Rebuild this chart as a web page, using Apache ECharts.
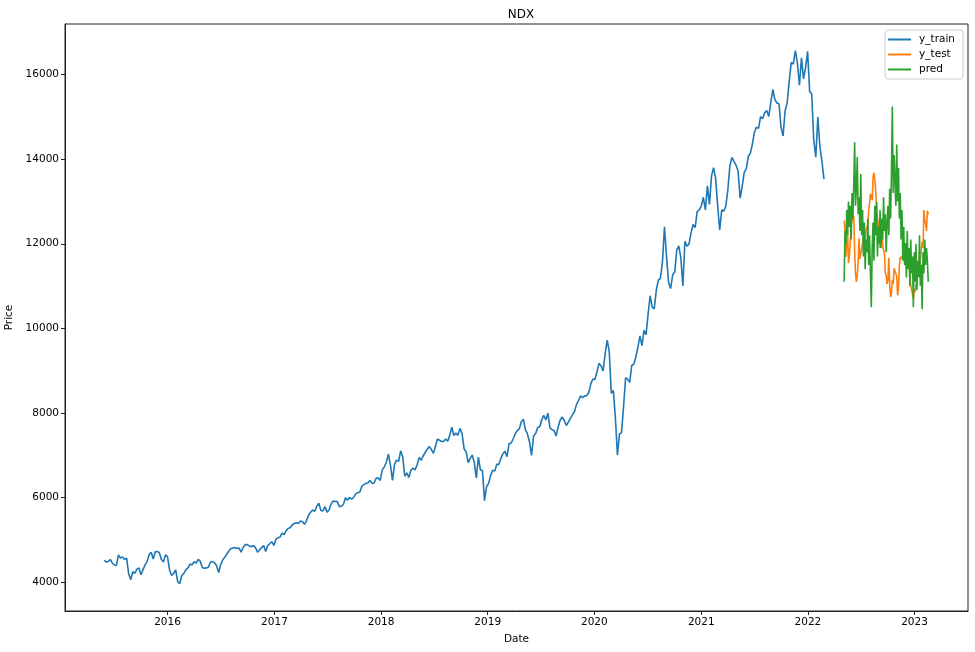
<!DOCTYPE html>
<html>
<head>
<meta charset="utf-8">
<title>NDX</title>
<script src="https://cdn.jsdelivr.net/npm/echarts@6/dist/echarts.min.js"></script>
<style>
  html, body { margin: 0; padding: 0; background: #fff; }
  #chart { width: 975px; height: 652px; }
</style>
</head>
<body>
<div id="chart"></div>
<script>
// weekly closes (Friday)
const train2015 = [4509, 4470, 4480, 4530, 4440, 4400, 4390, 4640, 4560, 4590, 4530, 4560, 4190, 4050, 4240,
  4200, 4300, 4330, 4170, 4290, 4400, 4480, 4650, 4700, 4540, 4710, 4720, 4690, 4530, 4470, 4640]
const train2016 = [4590, 4280, 4150, 4200, 4280, 4000, 3960, 4150, 4200, 4290, 4330, 4420, 4400, 4480, 4440,
  4530, 4490, 4340, 4320, 4330, 4350, 4470, 4480, 4450, 4380, 4220, 4410, 4520, 4580, 4660, 4730, 4790, 4800,
  4810, 4790, 4800, 4700, 4820, 4880, 4880, 4850, 4830, 4860, 4810, 4700, 4760, 4810, 4860, 4720, 4860, 4900,
  4950, 4860]
const train2017 = [5010, 5040, 5060, 5150, 5120, 5210, 5270, 5280, 5350, 5380, 5400, 5380, 5440, 5420, 5360,
  5450, 5580, 5650, 5700, 5670, 5790, 5860, 5690, 5680, 5780, 5650, 5700, 5850, 5910, 5900, 5900, 5780, 5790,
  5830, 5990, 5930, 6000, 5960, 6000, 6080, 6110, 6120, 6260, 6300, 6330, 6340, 6400, 6330, 6340, 6450, 6460,
  6400]
const train2018 = [6650, 6720, 6830, 7020, 6760, 6400, 6780, 6880, 6850, 7100, 6960, 6500, 6580, 6470, 6640,
  6690, 6650, 6760, 6940, 6880, 6980, 7060, 7140, 7200, 7130, 7040, 7200, 7380, 7350, 7320, 7320, 7380, 7330,
  7460, 7660, 7460, 7520, 7470, 7630, 7520, 7150, 7080, 6820, 6920, 7000, 6820, 6460, 6950, 6650, 6630, 5920,
  6250]
const train2019 = [6330, 6520, 6640, 6620, 6780, 6780, 6920, 7030, 7090, 6960, 7270, 7280, 7380, 7500, 7580,
  7620, 7790, 7850, 7600, 7500, 7310, 6990, 7450, 7510, 7650, 7670, 7840, 7940, 7830, 7990, 7650, 7600, 7580,
  7450, 7660, 7830, 7900, 7820, 7700, 7780, 7870, 7950, 8030, 8200, 8290, 8400, 8360, 8400, 8410, 8480, 8690,
  8800]
const train2020 = [8790, 8970, 9170, 9110, 8990, 9400, 9720, 9450, 8460, 8530, 7880, 7000, 7500, 7530, 8150,
  8830, 8790, 8720, 9120, 9150, 9320, 9550, 9820, 9590, 9950, 9850, 10340, 10770, 10500, 10460, 10900, 11140,
  11180, 11560, 12400, 11700, 11090, 10940, 11260, 11330, 11850, 11950, 11670, 11000, 12060, 11940, 11990,
  12260, 12460, 12380, 12760, 12800]
const train2021 = [12890, 13100, 12800, 13370, 12930, 13600, 13800, 13560, 12910, 12330, 12800, 12770, 12890,
  13280, 13850, 14040, 13950, 13860, 13720, 13080, 13360, 13690, 13770, 14070, 14140, 14360, 14640, 14760,
  14730, 15010, 14960, 15100, 15150, 15010, 15350, 15650, 15410, 15330, 15310, 14760, 14550, 15150, 15330,
  15850, 16290, 16250, 16570, 16280, 15750, 16400, 15900, 16170, 16550]
const train2022 = [15600, 15550, 14450, 14050, 15000, 14300, 13950, 13530]

// first Friday of every block above
const trainStarts = ['2015-05-29', '2016-01-01', '2017-01-06', '2018-01-05', '2019-01-04', '2020-01-03',
  '2021-01-01', '2022-01-07']
const trainBlocks = [train2015, train2016, train2017, train2018, train2019, train2020, train2021, train2022]

// test period, one value every 3 calendar days from testStart
const testStart = '2022-05-05'
const yTest = [12550, 12320, 11690, 12000, 12230, 11540, 11730, 12020, 12440, 12550, 12560, 12660, 11830,
  11280, 11100, 11260, 11540, 12130, 11640, 11610, 11630, 12000, 12130, 11950, 11990, 12330, 12410, 12360,
  12800, 12950, 13180, 13200, 13030, 13570, 13680, 13530, 13260, 12870, 12600, 12480, 12130, 11900, 12180,
  12420, 11950, 11850, 11770, 11310, 11250, 11050, 11150, 11670, 11040, 10740, 10820, 11150, 11050, 11420,
  11390, 11400, 11230, 10780, 10930, 11470, 11690, 11640, 11680, 11730, 11780, 11560, 12020, 11960, 11460,
  11560, 11820, 11190, 11010, 11000, 10980, 10700, 10940, 10860, 11040, 11110, 11460, 11540, 11450, 11630,
  11850, 12050, 11900, 12800, 12570, 12480, 12300, 12780, 12690]
const pred = [11100, 12300, 12000, 12800, 12200, 13000, 12400, 12900, 12100, 13200, 12600, 13400, 14400,
  12900, 13300, 14050, 12700, 13100, 12300, 13650, 12200, 12800, 11700, 12500, 11400, 12100, 11800, 12600,
  11500, 12200, 11300, 10500, 11900, 12500, 11600, 12900, 12200, 13000, 11700, 12400, 12000, 12800, 11900,
  12600, 12100, 13100, 12300, 12700, 11800, 12500, 12900, 12200, 13300, 12600, 13700, 15250, 13200, 14100,
  13500, 12900, 14350, 13000, 13800, 12600, 13200, 12100, 12800, 11600, 12400, 11500, 12000, 11200, 12300,
  11400, 11900, 11000, 12100, 11300, 11700, 10500, 11800, 11100, 12000, 10900, 11600, 11200, 12200, 11000,
  11500, 10450, 11800, 11300, 12100, 11500, 11900, 11600, 11100]

const yearTicks = [2016, 2017, 2018, 2019, 2020, 2021, 2022, 2023]
const priceTicks = [4000, 6000, 8000, 10000, 12000, 14000, 16000]

// 日期工具
const day = (s, offset) => {
  const [y, m, d] = s.split('-').map(Number)
  return new Date(y, m - 1, d + offset).getTime()
}

const trainData = []
trainBlocks.forEach((block, b) => {
  block.forEach((v, i) => trainData.push([day(trainStarts[b], i * 7), v]))
})
const testData = yTest.map((v, i) => [day(testStart, i * 3), v])
const predData = pred.map((v, i) => [day(testStart, i * 3), v])
const yearStamps = yearTicks.map(y => new Date(y, 0, 1).getTime())

const font = 'DejaVu Sans'
const chart = echarts.init(document.getElementById('chart'))

chart.setOption({
  animation: false,
  color: ['#1f77b4', '#ff7f0e', '#2ca02c'],
  textStyle: { fontFamily: font },
  title: {
    text: 'NDX',
    left: 516,
    top: 4,
    textAlign: 'center',
    textStyle: { fontFamily: font, fontSize: 12, fontWeight: 'normal', color: '#000' }
  },
  legend: {
    orient: 'vertical',
    right: 12,
    top: 30,
    icon: 'rect',
    itemWidth: 23,
    itemHeight: 2,
    itemGap: 4,
    padding: [4, 8, 4, 3],
    borderColor: '#ccc',
    borderWidth: 1,
    borderRadius: 3,
    backgroundColor: '#fff',
    textStyle: { fontFamily: font, fontSize: 10.5, color: '#000', padding: [0, 0, 0, 3] },
    data: ['y_train', 'y_test', 'pred']
  },
  grid: {
    left: 65,
    right: 7,
    top: 24,
    bottom: 41,
    outerBoundsMode: 'none',
    containLabel: false,
    show: true,
    borderColor: '#222',
    borderWidth: 1
  },
  xAxis: {
    // 时间戳数值轴, 年份刻度手动指定
    type: 'value',
    min: day('2015-01-15', 0),
    max: day('2023-07-03', 0),
    name: 'Date',
    nameLocation: 'middle',
    nameGap: 23,
    nameTextStyle: { fontFamily: font, fontSize: 10.5, color: '#000' },
    axisLine: { show: true, onZero: false, lineStyle: { color: '#222', width: 1 } },
    axisTick: {
      show: true,
      inside: false,
      length: 4,
      lineStyle: { color: '#222' },
      customValues: yearStamps
    },
    axisLabel: {
      fontFamily: font,
      fontSize: 10.5,
      color: '#000',
      margin: 6,
      customValues: yearStamps,
      formatter: v => String(new Date(v).getFullYear())
    },
    splitLine: { show: false }
  },
  yAxis: {
    type: 'value',
    min: 3310,
    max: 17200,
    name: 'Price',
    nameLocation: 'middle',
    nameGap: 40,
    nameRotate: 90,
    nameTextStyle: { fontFamily: font, fontSize: 10.5, color: '#000' },
    axisLine: { show: true, onZero: false, lineStyle: { color: '#222', width: 1 } },
    axisTick: {
      show: true,
      inside: false,
      length: 4,
      lineStyle: { color: '#222' },
      customValues: priceTicks
    },
    axisLabel: {
      fontFamily: font,
      fontSize: 10.5,
      color: '#000',
      margin: 6,
      customValues: priceTicks,
      formatter: v => String(v)
    },
    splitLine: { show: false }
  },
  series: [
    { name: 'y_train', type: 'line', data: trainData, showSymbol: false, symbol: 'none', lineStyle: { width: 1.6 } },
    { name: 'y_test', type: 'line', data: testData, showSymbol: false, symbol: 'none', lineStyle: { width: 1.6 } },
    { name: 'pred', type: 'line', data: predData, showSymbol: false, symbol: 'none', lineStyle: { width: 1.6 } }
  ]
})

window.addEventListener('resize', () => chart.resize())
</script>
</body>
</html>
